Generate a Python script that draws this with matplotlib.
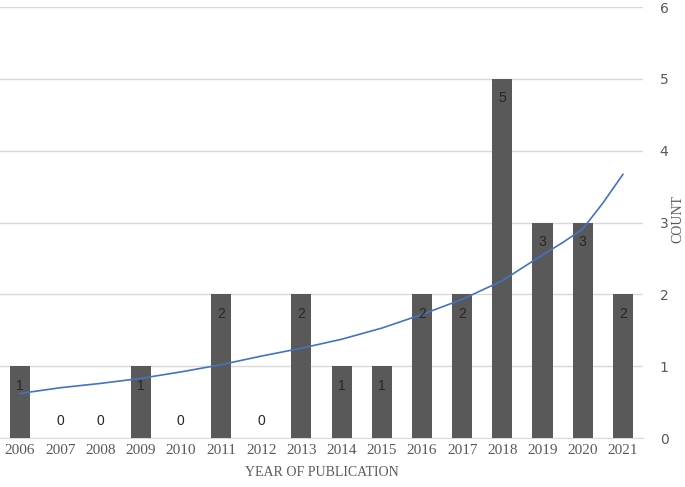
import matplotlib.pyplot as plt
import numpy as np

years = ["2006", "2007", "2008", "2009", "2010", "2011", "2012", "2013",
         "2014", "2015", "2016", "2017", "2018", "2019", "2020", "2021"]
counts = [1, 0, 0, 1, 0, 2, 0, 2, 1, 1, 2, 2, 5, 3, 3, 2]

# trendline (x in category positions)
trend_x = [0, 1, 2, 3, 4, 5, 6, 7, 8, 9, 10, 11, 12, 13, 13.5, 14, 14.5, 15]
trend_y = [0.62, 0.70, 0.76, 0.83, 0.92, 1.02, 1.14, 1.25, 1.375, 1.53,
           1.72, 1.93, 2.19, 2.55, 2.72, 2.91, 3.27, 3.67]

bar_color = "#595959"
grid_color = "#d9d9d9"
text_gray = "#595959"
serif = ["Liberation Serif", "DejaVu Serif"]
narrow = ["Liberation Sans Narrow", "Liberation Sans", "DejaVu Sans"]

fig = plt.figure(figsize=(6.85, 4.87), dpi=100)
ax = fig.add_axes([0.0, 0.1006, 0.9387, 0.8850])

x = np.arange(len(years))
ax.bar(x, counts, width=0.5, color=bar_color, zorder=3)
ax.plot(trend_x, trend_y, color="#4472c4", lw=1.2, zorder=4)

# value labels inside the bar ends
for xi, c in zip(x, counts):
    if c == 0:
        ax.annotate(str(c), (xi, 0), xytext=(0, 12), textcoords="offset points",
                    ha="center", va="center", fontsize=10, color="#262626",
                    family=narrow, zorder=5)
    else:
        ax.annotate(str(c), (xi, c), xytext=(0, -14), textcoords="offset points",
                    ha="center", va="center", fontsize=10, color="#262626",
                    family=narrow, zorder=5)

ax.set_xlim(-0.5, 15.5)
ax.set_ylim(0, 6)
ax.set_yticks(np.arange(0, 7, 1))
ax.set_xticks(x)
ax.set_xticklabels(years, family=serif, fontsize=11, color=text_gray)
for lab in ax.get_yticklabels():
    lab.set_family(narrow)
ax.yaxis.tick_right()
ax.tick_params(axis="y", length=0, pad=12, labelsize=10, labelcolor=text_gray)
ax.tick_params(axis="x", length=0, pad=4)

ax.grid(axis="y", color=grid_color, lw=1, zorder=0)
for s in ["top", "left", "right"]:
    ax.spines[s].set_visible(False)
ax.spines["bottom"].set_color(grid_color)

ax.set_xlabel("YEAR OF PUBLICATION", family=serif, fontsize=10,
              color=text_gray, labelpad=7)
fig.text(678 / 685, 0.55, "COUNT", rotation=90, ha="center", va="center",
         family=serif, fontsize=10, color=text_gray)

plt.savefig("out.png", dpi=100)
plt.close()
